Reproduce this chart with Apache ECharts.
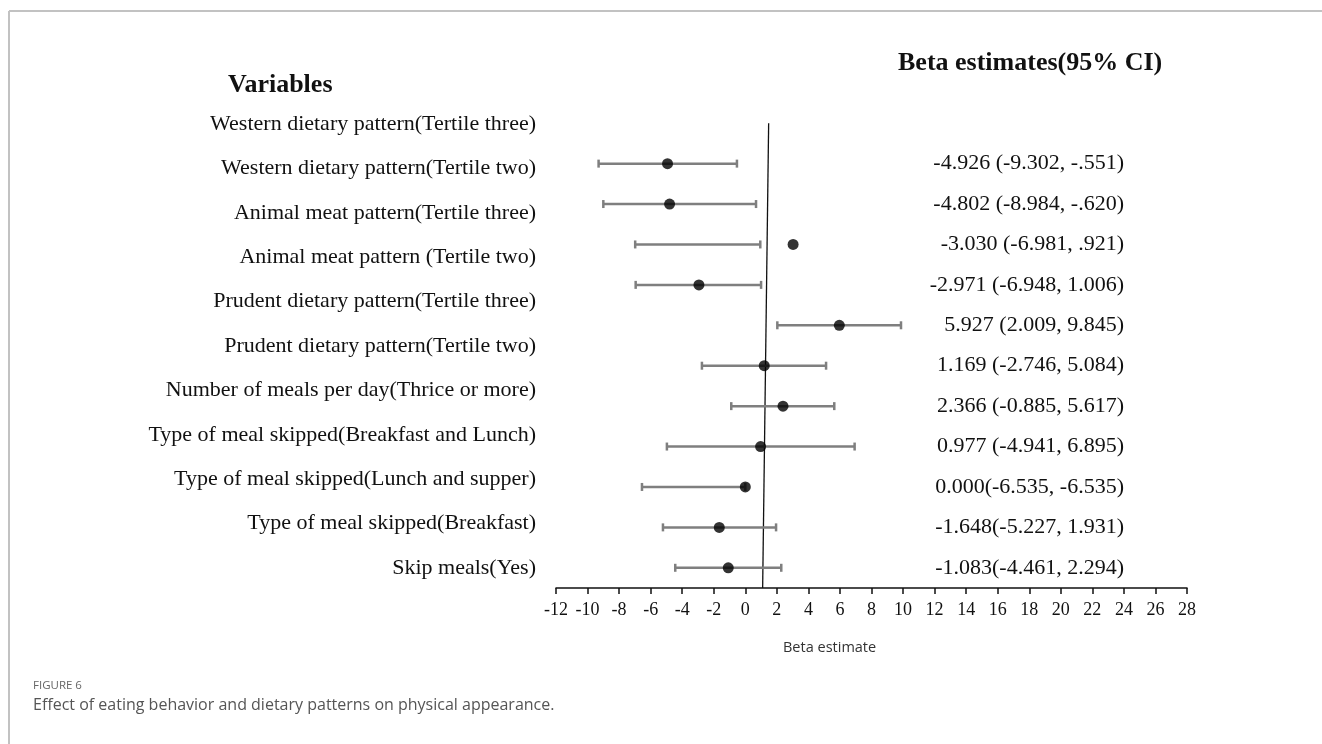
<!DOCTYPE html>
<html>
<head>
<meta charset="utf-8">
<script src="https://cdn.jsdelivr.net/npm/echarts@6/dist/echarts.min.js"></script>
<style>
  html, body { margin: 0; padding: 0; background: #fff; }
  #chart { width: 1322px; height: 744px; }
</style>
</head>
<body>
<div id="chart"></div>
<script>
// left column labels, top to bottom
const variables = [
  'Western dietary pattern(Tertile three)',
  'Western dietary pattern(Tertile two)',
  'Animal meat pattern(Tertile three)',
  'Animal meat pattern (Tertile two)',
  'Prudent dietary pattern(Tertile three)',
  'Prudent dietary pattern(Tertile two)',
  'Number of meals per day(Thrice or more)',
  'Type of meal skipped(Breakfast and Lunch)',
  'Type of meal skipped(Lunch and supper)',
  'Type of meal skipped(Breakfast)',
  'Skip meals(Yes)'
]
// plotted points as drawn in the figure (first row left empty)
const estimates = [null, -4.93, -4.80, 3.03, -2.94, 5.96, 1.20, 2.39, 0.97, 0.00, -1.65, -1.08]
const lower = [null, -9.30, -9.00, -6.98, -6.95, 2.03, -2.75, -0.89, -4.97, -6.55, -5.22, -4.44]
const upper = [null, -0.53, 0.68, 0.95, 1.00, 9.87, 5.12, 5.64, 6.93, 0.00, 1.95, 2.28]
const ciText = [
  ' ',
  '-4.926 (-9.302, -.551)',
  '-4.802 (-8.984, -.620)',
  '-3.030 (-6.981, .921)',
  '-2.971 (-6.948, 1.006)',
  '5.927 (2.009, 9.845)',
  '1.169 (-2.746, 5.084)',
  '2.366 (-0.885, 5.617)',
  '0.977 (-4.941, 6.895)',
  '0.000(-6.535, -6.535)',
  '-1.648(-5.227, 1.931)',
  '-1.083(-4.461, 2.294)'
]
const xTicks = { min: -12, max: 28, step: 2 }
const refLine = { top: 1.48, bottom: 1.1 }

const serif = '"Liberation Serif", "Times New Roman", serif'
const sans = '"Open Sans", "Noto Sans", sans-serif'

const barData = []
const dotData = []
estimates.forEach((v, i) => {
  if (v === null) return
  barData.push([i, lower[i], upper[i]])
  dotData.push([v, i])
})

const chart = echarts.init(document.getElementById('chart'))
chart.setOption({
  animation: false,
  grid: [
    { left: 556, right: 135, top: 103, bottom: 156 },
    { left: 556, right: 135, top: 102, height: 488 } // label column
  ],
  xAxis: [{
    type: 'value',
    min: xTicks.min,
    max: xTicks.max,
    interval: xTicks.step,
    splitLine: { show: false },
    axisLine: { show: true, lineStyle: { color: '#111', width: 1.5 } },
    axisTick: { show: true, length: 6, lineStyle: { color: '#111', width: 1.5 } },
    axisLabel: { color: '#111', fontFamily: serif, fontSize: 18, margin: 13 }
  }, {
    type: 'value',
    gridIndex: 1,
    show: false
  }],
  yAxis: [{
    type: 'category',
    inverse: true,
    position: 'right',
    data: ciText,
    axisLine: { show: false },
    axisTick: { show: false },
    axisLabel: { inside: true, color: '#111', fontFamily: serif, fontSize: 22, margin: 63, interval: 0 }
  }, {
    type: 'category',
    gridIndex: 1,
    inverse: true,
    data: variables,
    axisLine: { show: false },
    axisTick: { show: false },
    axisLabel: { color: '#111', fontFamily: serif, fontSize: 22, margin: 20, interval: 0 }
  }],
  series: [{
    // reference line
    type: 'custom',
    data: [[refLine.top, refLine.bottom]],
    renderItem: function (params, api) {
      const top = api.coord([api.value(0), 0])
      const bot = api.coord([api.value(1), 11])
      const cs = params.coordSys
      return {
        type: 'line',
        shape: { x1: top[0], y1: top[1], x2: bot[0], y2: cs.y + cs.height },
        style: { stroke: '#111', lineWidth: 1.3 }
      }
    },
    z: 1
  }, {
    // confidence intervals
    type: 'custom',
    data: barData,
    encode: { x: [1, 2], y: 0 },
    renderItem: function (params, api) {
      const row = api.value(0)
      const a = api.coord([api.value(1), row])
      const b = api.coord([api.value(2), row])
      const h = 4
      const st = { stroke: '#7f7f7f', lineWidth: 2.5 }
      return {
        type: 'group',
        children: [
          { type: 'line', shape: { x1: a[0], y1: a[1], x2: b[0], y2: b[1] }, style: st },
          { type: 'line', shape: { x1: a[0], y1: a[1] - h, x2: a[0], y2: a[1] + h }, style: st },
          { type: 'line', shape: { x1: b[0], y1: b[1] - h, x2: b[0], y2: b[1] + h }, style: st }
        ]
      }
    },
    z: 2
  }, {
    type: 'scatter',
    data: dotData,
    symbolSize: 11,
    itemStyle: { color: '#000' },
    z: 3
  }],
  graphic: [
    { type: 'line', shape: { x1: 9, y1: 11, x2: 1322, y2: 11 }, style: { stroke: '#c2c2c2', lineWidth: 2 } },
    { type: 'line', shape: { x1: 9, y1: 11, x2: 9, y2: 744 }, style: { stroke: '#c2c2c2', lineWidth: 2 } },
    { type: 'text', left: 228, top: 72, style: { text: 'Variables', font: 'bold 26px ' + serif, fill: '#111' } },
    { type: 'text', left: 898, top: 50, style: { text: 'Beta estimates(95% CI)', font: 'bold 26px ' + serif, fill: '#111' } },
    { type: 'text', left: 783, top: 640, style: { text: 'Beta estimate', font: '14.5px ' + sans, fill: '#333' } },
    { type: 'text', left: 33, top: 680, style: { text: 'FIGURE 6', font: '11.5px ' + sans, fill: '#666' } },
    { type: 'text', left: 33, top: 697, style: { text: 'Effect of eating behavior and dietary patterns on physical appearance.', font: '16px ' + sans, fill: '#555' } }
  ]
})
</script>
</body>
</html>
